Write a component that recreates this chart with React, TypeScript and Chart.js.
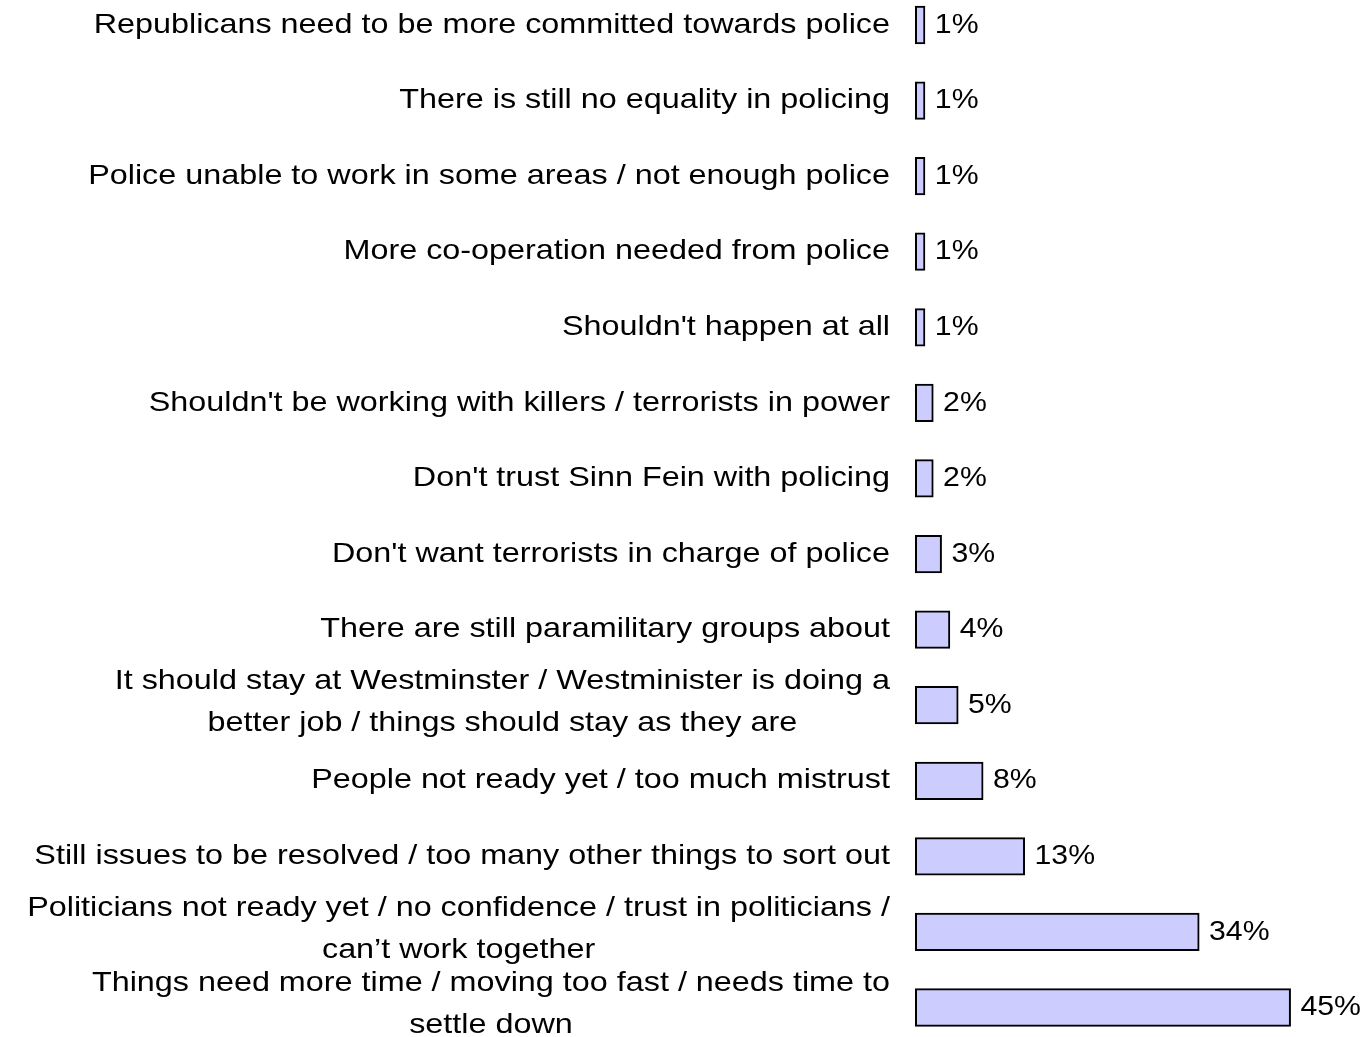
import React, { useEffect, useRef } from "react";
import { Chart, registerables } from "chart.js";

Chart.register(...registerables);

const categories: (string | string[])[] = [
  "Republicans need to be more committed towards police",
  "There is still no equality in policing",
  "Police unable to work in some areas / not enough police",
  "More co-operation needed from police",
  "Shouldn't happen at all",
  "Shouldn't be working with killers / terrorists in power",
  "Don't trust Sinn Fein with policing",
  "Don't want terrorists in charge of police",
  "There are still paramilitary groups about",
  ["It should stay at Westminster / Westminister is doing a", "better job / things should stay as they are"],
  "People not ready yet / too much mistrust",
  "Still issues to be resolved / too many other things to sort out",
  ["Politicians not ready yet / no confidence / trust in politicians /", "can\u2019t work together"],
  ["Things need more time / moving too fast / needs time to", "settle down"],
];

const values: number[] = [1, 1, 1, 1, 1, 2, 2, 3, 4, 5, 8, 13, 34, 45];

const FONT = '28px "Liberation Sans", Arial, sans-serif';
const STRETCH = 1.155;
const VALUE_STRETCH = 1.08;

function drawText(ctx: CanvasRenderingContext2D, text: string, x: number, y: number, align: CanvasTextAlign, sx: number) {
  ctx.save();
  ctx.translate(x, y);
  ctx.scale(sx, 1);
  ctx.textAlign = align;
  ctx.fillText(text, 0, 0);
  ctx.restore();
}

const labelPlugin = {
  id: "customLabels",
  afterDatasetsDraw(chart: any) {
    const ctx = chart.ctx as CanvasRenderingContext2D;
    const yScale = chart.scales.y;
    const xScale = chart.scales.x;
    ctx.save();
    ctx.font = FONT;
    ctx.fillStyle = "#000";
    ctx.textBaseline = "middle";
    const rightEdge = 890;
    const lineH = 42;
    categories.forEach((cat, i) => {
      const y = yScale.getPixelForValue(i);
      const lines = Array.isArray(cat) ? cat : [cat];
      if (lines.length === 1) {
        drawText(ctx, lines[0], rightEdge, y, "right", STRETCH);
      } else {
        const w = Math.max(...lines.map((l) => ctx.measureText(l).width)) * STRETCH;
        const cx = rightEdge - w / 2;
        const top = y - 3 - ((lines.length - 1) * lineH) / 2;
        lines.forEach((l, k) => drawText(ctx, l, cx, top + k * lineH, "center", STRETCH));
      }
      const v = values[i];
      drawText(ctx, `${v}%`, xScale.getPixelForValue(v) + 10.5, y, "left", VALUE_STRETCH);
    });
    ctx.restore();
  },
};

export default function App() {
  const ref = useRef<HTMLCanvasElement>(null);
  useEffect(() => {
    document.body.style.margin = "0";
    const canvas = ref.current!;
    const chart = new Chart(canvas, {
      type: "bar",
      data: {
        labels: categories.map((c) => (Array.isArray(c) ? c.join(" ") : c)),
        datasets: [
          {
            data: values,
            backgroundColor: "#CCCCFF",
            borderColor: "#000000",
            borderWidth: 2,
            borderSkipped: false,
            inflateAmount: 1,
            barPercentage: 1,
            categoryPercentage: 0.48,
            clip: false as any,
          } as any,
        ],
      },
      options: {
        indexAxis: "y",
        animation: false,
        responsive: false,
        devicePixelRatio: 1,
        layout: { padding: { left: 916, right: 34.5, top: 25, bottom: 29.5 } },
        plugins: { legend: { display: false }, tooltip: { enabled: false } },
        scales: {
          x: { display: false, min: 0, max: 50 },
          y: { display: false, offset: false },
        },
      },
      plugins: [labelPlugin],
    });
    return () => chart.destroy();
  }, []);
  return <canvas ref={ref} width={1366} height={1037} style={{ display: "block" }} />;
}
